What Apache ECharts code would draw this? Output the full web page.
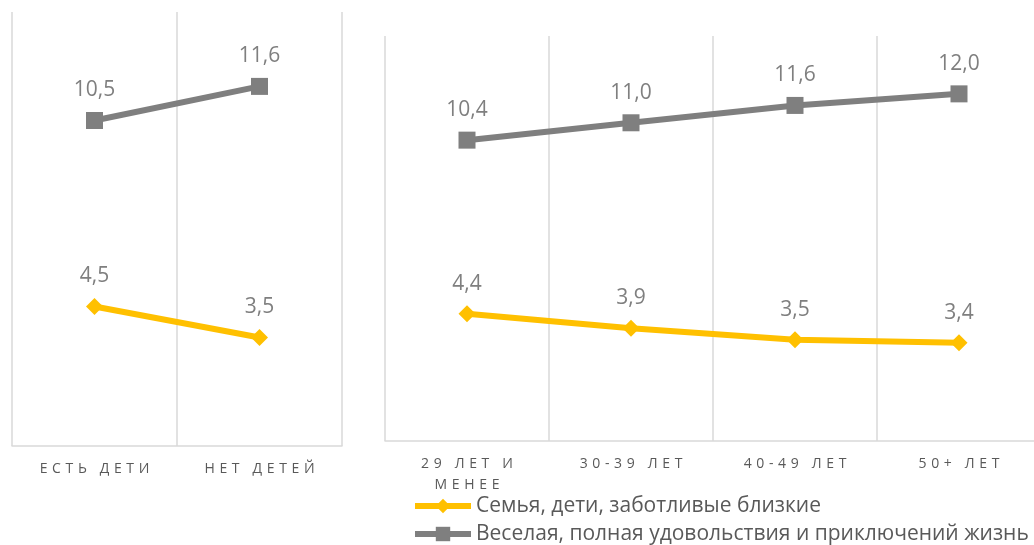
<!DOCTYPE html>
<html>
<head>
<meta charset="utf-8">
<script src="https://cdn.jsdelivr.net/npm/echarts@6/dist/echarts.min.js"></script>
<style>
  html, body { margin: 0; padding: 0; background: #fff; }
  #container { width: 1034px; height: 545px; }
</style>
</head>
<body>
<div id="container"></div>
<script>
var dom = document.getElementById('container');
var myChart = echarts.init(dom, null, { renderer: 'canvas' });

// data
const kidsCats = ['ЕСТЬ ДЕТИ', 'НЕТ ДЕТЕЙ'];
const ageCats = ['29 ЛЕТ И МЕНЕЕ', '30-39 ЛЕТ', '40-49 ЛЕТ', '50+ ЛЕТ'];
const familyKids = [4.5, 3.5];
const funKids = [10.5, 11.6];
const familyAge = [4.4, 3.9, 3.5, 3.4];
const funAge = [10.4, 11.0, 11.6, 12.0];
const seriesNames = ['Семья, дети, заботливые близкие', 'Веселая, полная удовольствия и приключений жизнь'];

const yellow = '#FFC000';
const grey = '#7F7F7F';
const gridColor = '#D9D9D9';

// spaced-out caps like the original axis labels
function spaced(v) {
  return v.replace(' МЕНЕЕ', '\nМЕНЕЕ').split('\n').map(function (line) {
    return line.split('').join('\u2009\u2009');
  }).join('\n');
}

function xAxis(idx, cats, splitColors) {
  return {
    type: 'category',
    gridIndex: idx,
    data: cats,
    boundaryGap: true,
    axisLine: { show: true, lineStyle: { color: gridColor, width: 1.5 } },
    axisTick: { show: false },
    splitLine: { show: true, lineStyle: { color: splitColors, width: 1.5 } },
    axisLabel: {
      margin: 13,
      fontFamily: 'Open Sans',
      fontSize: 14,
      color: '#595959',
      lineHeight: 21,
      formatter: spaced
    }
  };
}

function yAxis(idx) {
  return {
    type: 'value',
    gridIndex: idx,
    min: 0,
    max: 14,
    show: false,
    splitLine: { show: false }
  };
}

function line(name, idx, data, color, symbol, size) {
  return {
    name: name,
    type: 'line',
    xAxisIndex: idx,
    yAxisIndex: idx,
    data: data,
    symbol: symbol,
    symbolSize: size,
    lineStyle: { color: color, width: 6 },
    itemStyle: { color: color },
    label: {
      show: true,
      position: 'top',
      distance: 11,
      fontFamily: 'Open Sans',
      fontSize: 21,
      color: '#7F7F7F',
      formatter: function (p) { return p.value.toFixed(1).replace('.', ','); }
    }
  };
}

function legend(i) {
  return {
    orient: 'vertical',
    left: 412,
    top: 494 + i * 28,
    padding: 0,
    itemWidth: 56,
    itemHeight: 18,
    lineStyle: { width: 6 },
    data: [seriesNames[i]],
    textStyle: { fontFamily: 'Open Sans', fontSize: 21, lineHeight: 24, color: '#595959' }
  };
}

var option = {
  animation: false,
  grid: [
    { left: 12, top: 12, width: 330, height: 434, outerBoundsMode: 'none' },
    { left: 385, top: 36, width: 656, height: 405, outerBoundsMode: 'none' }
  ],
  legend: [legend(0), legend(1)],
  xAxis: [
    xAxis(0, kidsCats, [gridColor]),
    // the right panel runs past the page edge, so its last boundary line is not drawn
    xAxis(1, ageCats, [gridColor, gridColor, gridColor, gridColor, 'rgba(0,0,0,0)'])
  ],
  yAxis: [yAxis(0), yAxis(1)],
  series: [
    line(seriesNames[0], 0, familyKids, yellow, 'diamond', 17),
    line(seriesNames[1], 0, funKids, grey, 'rect', 17),
    line(seriesNames[0], 1, familyAge, yellow, 'diamond', 17),
    line(seriesNames[1], 1, funAge, grey, 'rect', 17)
  ]
};

myChart.setOption(option);
window.addEventListener('resize', myChart.resize);
</script>
</body>
</html>
